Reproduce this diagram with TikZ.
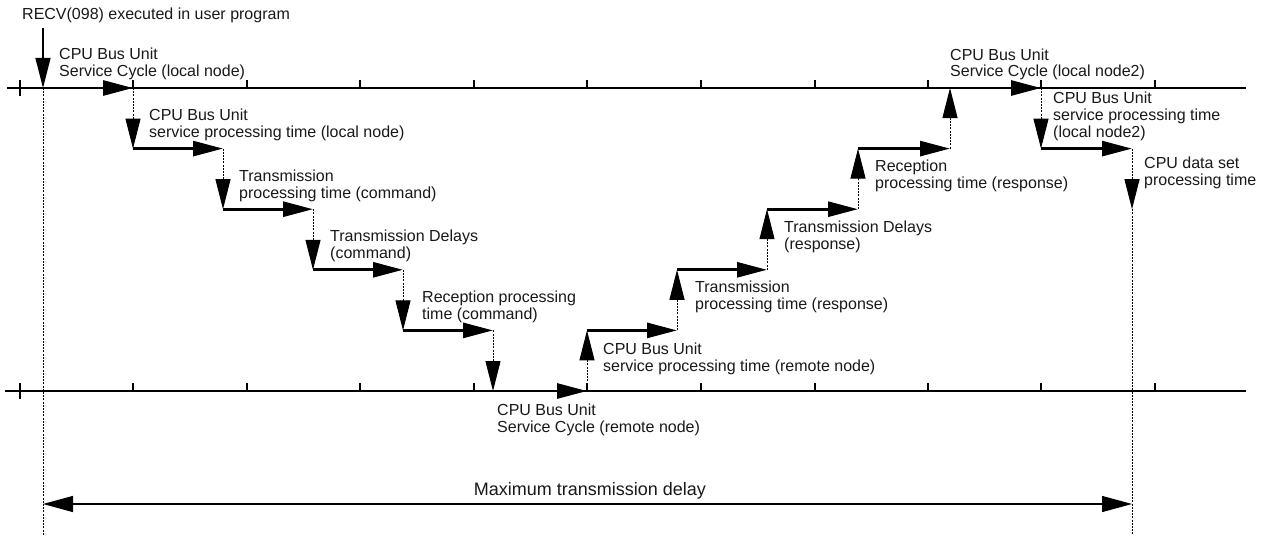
\documentclass[tikz,border=0pt]{standalone}
\usepackage{fontspec}
\setmainfont{Liberation Sans}
\usetikzlibrary{arrows.meta}
\begin{document}
\begin{tikzpicture}[x=1pt,y=-1pt,
  lbl/.style={anchor=base west, inner sep=0pt, align=left, font=\fontsize{16}{17}\selectfont, text=black!90},
  axisline/.style={line width=1.2pt},
  tickmark/.style={line width=1.1pt},
  hstep/.style={line width=2.8pt, -{Triangle[length=30pt,width=15pt]}},
  vstep/.style={line width=1pt, dash pattern=on 2pt off 1.2pt, -{Triangle[length=30pt,width=15pt]}},
  guide/.style={line width=1pt, dash pattern=on 2pt off 1.2pt},
  recv/.style={line width=1.2pt, -{Triangle[length=30pt,width=15pt]}},
  span/.style={line width=1.3pt, {Triangle[length=30pt,width=16pt]}-{Triangle[length=30pt,width=16pt]}},
]
\useasboundingbox[fill=white] (0,0) rectangle (1265,535);

% axes
\coordinate (TL) at (7,88);   \coordinate (TR) at (1246,88);
\coordinate (BL) at (5,391);  \coordinate (BR) at (1246,391);
\draw[axisline] (TL) -- (TR);
\draw[axisline] (BL) -- (BR);
\draw[tickmark] (20,80) -- (20,96);
\draw[tickmark] (20,383) -- (20,399);
\foreach \x in {133,247,360,474,587,701,815,928,1041,1155}{
  \draw[tickmark] (\x,80) -- (\x,88);
  \draw[tickmark] (\x,383) -- (\x,391);
}

% staircase points
\coordinate (p0) at (43,88);
\coordinate (p1) at (133,88);
\coordinate (p2) at (133,148.6);
\coordinate (p3) at (223,148.6);
\coordinate (p4) at (223,209.2);
\coordinate (p5) at (313,209.2);
\coordinate (p6) at (313,269.8);
\coordinate (p7) at (403,269.8);
\coordinate (p8) at (403,330.4);
\coordinate (p9) at (493,330.4);
\coordinate (p10) at (493,391);
\coordinate (p11) at (587,391);
\coordinate (p12) at (587,330.4);
\coordinate (p13) at (677,330.4);
\coordinate (p14) at (677,269.8);
\coordinate (p15) at (767,269.8);
\coordinate (p16) at (767,209.2);
\coordinate (p17) at (858,209.2);
\coordinate (p18) at (858,148.6);
\coordinate (p19) at (950,148.6);
\coordinate (p20) at (950,88);
\coordinate (p21) at (1041,88);
\coordinate (p22) at (1041,148.6);
\coordinate (p23) at (1132,148.6);
\coordinate (p24) at (1132,209.2);

% guides
\coordinate (recvtop) at (43,28);
\coordinate (lbot) at (43,535);
\coordinate (rbot) at (1132,535);
\draw[guide] (p0) -- (lbot);
\draw[guide] (p24) -- (rbot);
\draw[recv] (recvtop) -- (p0);

% steps
\draw[hstep] (p0) -- (p1);
\draw[vstep] (p1) -- (p2);
\draw[hstep] (p2) -- (p3);
\draw[vstep] (p3) -- (p4);
\draw[hstep] (p4) -- (p5);
\draw[vstep] (p5) -- (p6);
\draw[hstep] (p6) -- (p7);
\draw[vstep] (p7) -- (p8);
\draw[hstep] (p8) -- (p9);
\draw[vstep] (p9) -- (p10);
\draw[hstep] (p10) -- (p11);
\draw[vstep] (p11) -- (p12);
\draw[hstep] (p12) -- (p13);
\draw[vstep] (p13) -- (p14);
\draw[hstep] (p14) -- (p15);
\draw[vstep] (p15) -- (p16);
\draw[hstep] (p16) -- (p17);
\draw[vstep] (p17) -- (p18);
\draw[hstep] (p18) -- (p19);
\draw[vstep] (p19) -- (p20);
\draw[hstep] (p20) -- (p21);
\draw[vstep] (p21) -- (p22);
\draw[hstep] (p22) -- (p23);
\draw[vstep] (p23) -- (p24);

% labels (anchor = baseline of the last line)
\node[lbl] (trecv) at (22,20) {RECV(098) executed in user program};
\node[lbl] (t1) at (59,76) {CPU Bus Unit\\Service Cycle (local node)};
\node[lbl] (t2) at (149,137) {CPU Bus Unit\\service processing time (local node)};
\node[lbl] (t3) at (239,198) {Transmission\\processing time (command)};
\node[lbl] (t4) at (330,258) {Transmission Delays\\(command)};
\node[lbl] (t5) at (422,319) {Reception processing\\time (command)};
\node[lbl] (t6) at (497,432) {CPU Bus Unit\\Service Cycle (remote node)};
\node[lbl] (t7) at (603,371) {CPU Bus Unit\\service processing time (remote node)};
\node[lbl] (t8) at (695,309) {Transmission\\processing time (response)};
\node[lbl] (t9) at (784,249) {Transmission Delays\\(response)};
\node[lbl] (t10) at (875,188) {Reception\\processing time (response)};
\node[lbl] (t11) at (950,77) {CPU Bus Unit\\Service Cycle (local node2)};
\node[lbl] (t12) at (1053,137) {CPU Bus Unit\\service processing time\\(local node2)};
\node[lbl] (t13) at (1144,185) {CPU data set\\processing time};

% span
\coordinate (sl) at (43,504);
\coordinate (sr) at (1132,504);
\draw[span] (sl) -- (sr);
\node[anchor=base, inner sep=0pt, font=\fontsize{18}{21}\selectfont, text=black!90] (tmax) at (590,495) {Maximum transmission delay};
\end{tikzpicture}
\end{document}
